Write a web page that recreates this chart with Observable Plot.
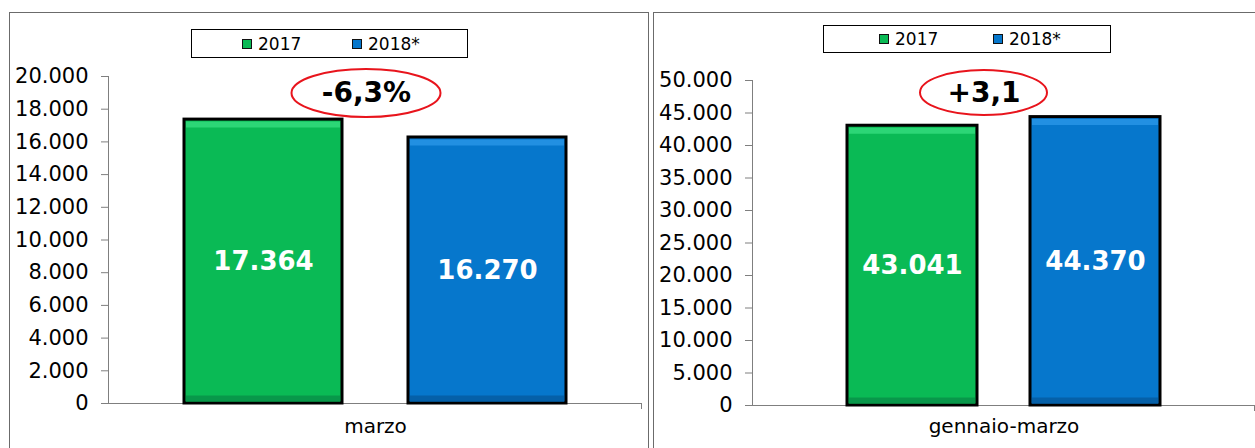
<!DOCTYPE html>
<html><head><meta charset="utf-8">
<script src="https://cdn.jsdelivr.net/npm/d3@7"></script>
<script src="https://cdn.jsdelivr.net/npm/@observablehq/plot@0.6"></script>
<style>
body{margin:0;width:1255px;height:448px;overflow:hidden;background:#fff;font-family:"DejaVu Sans",Verdana,sans-serif;position:relative}
.panel{position:absolute;border:1px solid #6b6b6b;box-sizing:border-box}
.chart{position:absolute;top:0}
.legend{position:absolute;border:1px solid #000;box-sizing:border-box;background:#fff;font-size:17px;color:#000}
.item{position:absolute;top:0;height:100%;display:flex;align-items:center;white-space:nowrap}
.sw{width:10px;height:10px;border:1.5px solid #111;box-sizing:border-box;margin-right:6px}
</style></head>
<body>
<script>
// ---- data ----
const years = ["2017", "2018*"];
const periods = ["marzo", "gennaio-marzo"];
const values2017 = [17364, 43041];
const values2018 = [16270, 44370];
const changes = ["-6,3%", "+3,1"];
const changeLevels = [18960, 48080];
const yTicksLeft = [0, 2000, 4000, 6000, 8000, 10000, 12000, 14000, 16000, 18000, 20000];
const yTicksRight = [0, 5000, 10000, 15000, 20000, 25000, 30000, 35000, 40000, 45000, 50000];
const yMax = [20000, 50000];
const colors = ["#0aba55", "#0677cc"];
const lights = ["#2cd676", "#2290e2"];
const darks = ["#08974a", "#0560a8"];

const itFmt = d3.formatLocale({decimal: ",", thousands: ".", grouping: [3], currency: ["", "€"]}).format(",d");

const panels = [
  {left: 0, width: 648, mL: 108, mR: 6, mT: 76, mB: 45, padIn: 0.295, padOut: 0.339, ticks: yTicksLeft, catDy: 29, chDx: -9, rx: 74.5, ry: 24,
   box: {x: 9, y: 12, w: 640}, legend: {x: 191, y: 29, w: 277, h: 29, off: 50, step: 110}},
  {left: 653, width: 602, mL: 99, mR: 0, mT: 80, mB: 43, padIn: 0.288, padOut: 0.511, ticks: yTicksRight, catDy: 27, chDx: -20, rx: 63.5, ry: 22.5,
   box: {x: 653, y: 12, w: 610}, legend: {x: 823, y: 25, w: 288, h: 28, off: 55, step: 114}}
];

panels.forEach((p, i) => {
  const box = document.createElement("div");
  box.className = "panel";
  Object.assign(box.style, {left: p.box.x + "px", top: p.box.y + "px", width: p.box.w + "px", height: "460px"});
  document.body.appendChild(box);

  const data = years.map((y, k) => ({year: y, value: k === 0 ? values2017[i] : values2018[i], k}));

  const chart = Plot.plot({
    width: p.width, height: 448,
    marginLeft: p.mL, marginRight: p.mR, marginTop: p.mT, marginBottom: p.mB,
    x: {domain: years, paddingInner: p.padIn, paddingOuter: p.padOut, axis: null},
    y: {domain: [0, yMax[i]], axis: null},
    style: {fontFamily: "DejaVu Sans, Verdana, sans-serif", background: "none", color: "#000", overflow: "visible"},
    marks: [
      Plot.frame({anchor: "left", stroke: "#7f7f7f"}),
      Plot.ruleY([0], {stroke: "#7f7f7f"}),
      Plot.axisY({ticks: p.ticks, tickSize: 7, tickPadding: 13, tickFormat: itFmt, stroke: "#7f7f7f", fill: "#000", fontSize: 21, label: null}),
      Plot.barY(data, {x: "year", y: "value", fill: d => colors[d.k], stroke: "#000", strokeWidth: 3}),
      Plot.tickY(data, {x: "year", y: "value", stroke: d => lights[d.k], strokeWidth: 6, dy: 5, insetLeft: 2, insetRight: 2}),
      Plot.tickY(data, {x: "year", y: 0, stroke: d => darks[d.k], strokeWidth: 6, dy: -5, insetLeft: 2, insetRight: 2}),
      Plot.text(data, {x: "year", y: d => d.value / 2, text: d => itFmt(d.value), fill: "white", fontWeight: "bold", fontSize: 26}),
      Plot.text([periods[i]], {frameAnchor: "bottom", dy: p.catDy, text: d => d, fontSize: 20, fill: "#000"}),
      Plot.text([changes[i]], {y: () => changeLevels[i], dx: p.chDx, text: d => d, fontSize: 28, fontWeight: "bold", fill: "#000"})
    ]
  });
  chart.classList.add("chart");
  chart.style.left = p.left + "px";
  document.body.appendChild(chart);

  const svg = d3.select(chart);
  const yS = chart.scale("y");
  const cx = p.mL + (p.width - p.mL - p.mR) / 2 + p.chDx;
  svg.append("ellipse").attr("cx", cx).attr("cy", yS.apply(changeLevels[i]))
    .attr("rx", p.rx).attr("ry", p.ry).attr("fill", "none").attr("stroke", "#e8141c").attr("stroke-width", 2);
  const xr = p.width - p.mR - 0.5, y0 = yS.apply(0);
  svg.append("line").attr("x1", xr).attr("x2", xr).attr("y1", y0).attr("y2", y0 + 6).attr("stroke", "#7f7f7f");

  const lg = document.createElement("div");
  lg.className = "legend";
  Object.assign(lg.style, {left: p.legend.x + "px", top: p.legend.y + "px", width: p.legend.w + "px", height: p.legend.h + "px"});
  years.forEach((y, k) => {
    const it = document.createElement("div");
    it.className = "item";
    it.style.left = (p.legend.off + k * p.legend.step) + "px";
    const sw = document.createElement("div");
    sw.className = "sw";
    sw.style.background = colors[k];
    it.appendChild(sw);
    it.appendChild(document.createTextNode(y));
    lg.appendChild(it);
  });
  document.body.appendChild(lg);
});
</script>
</body></html>
